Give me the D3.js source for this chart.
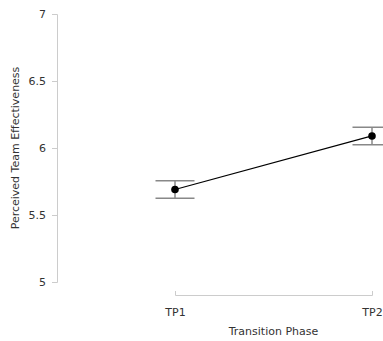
<!DOCTYPE html>
<html>
<head>
<meta charset="utf-8">
<script src="https://cdn.jsdelivr.net/npm/d3@7"></script>
<style>
  body { margin: 0; background: #fff; }
  text { font-family: "DejaVu Sans", sans-serif; fill: #333; }
</style>
</head>
<body>
<svg width="383" height="341"></svg>
<script>
var phases = ["TP1", "TP2"];
var means = [5.69, 6.09];
var lower = [5.625, 6.025];
var upper = [5.755, 6.155];
var yTicks = [5, 5.5, 6, 6.5, 7];

var svg = d3.select("svg");
var margin = { top: 14, right: 11, bottom: 59, left: 57 };
var width = +svg.attr("width") - margin.left - margin.right;
var height = +svg.attr("height") - margin.top - margin.bottom;

var data = phases.map(function(p, i) {
  return { phase: p, mean: means[i], lo: lower[i], hi: upper[i] };
});

var x = d3.scalePoint()
  .domain(phases)
  .range([118, width]);

var y = d3.scaleLinear()
  .domain([5, 7])
  .range([height, 0]);

var g = svg.append("g")
  .attr("transform", "translate(" + margin.left + "," + margin.top + ")");

// Y-axis
var yAxis = g.append("g")
  .call(d3.axisLeft(y).tickValues(yTicks).tickSize(5).tickPadding(6)
    .tickFormat(function(d) { return d3.format("")(d); }));
yAxis.selectAll("path, line").attr("stroke", "#ccc");
yAxis.selectAll("text").attr("font-size", 11).attr("fill", "#333");

// X-axis
var xAxis = g.append("g")
  .attr("transform", "translate(0," + (height + 13) + ")")
  .call(d3.axisBottom(x).tickSize(-4).tickSizeOuter(-4).tickPadding(13));
xAxis.selectAll("path, line").attr("stroke", "#ccc");
xAxis.selectAll("text").attr("font-size", 11).attr("fill", "#333");

// error bars
var capW = 19.5;
var eb = g.append("g").attr("class", "errorbars")
  .selectAll("g")
  .data(data)
  .enter().append("g")
    .attr("stroke", "#888")
    .attr("stroke-width", 1.5);

eb.append("line")
  .attr("x1", function(d) { return x(d.phase); })
  .attr("x2", function(d) { return x(d.phase); })
  .attr("y1", function(d) { return y(d.lo); })
  .attr("y2", function(d) { return y(d.hi); });
eb.append("line")
  .attr("x1", function(d) { return x(d.phase) - capW; })
  .attr("x2", function(d) { return x(d.phase) + capW; })
  .attr("y1", function(d) { return y(d.hi); })
  .attr("y2", function(d) { return y(d.hi); });
eb.append("line")
  .attr("x1", function(d) { return x(d.phase) - capW; })
  .attr("x2", function(d) { return x(d.phase) + capW; })
  .attr("y1", function(d) { return y(d.lo); })
  .attr("y2", function(d) { return y(d.lo); });

// line
g.append("path")
  .datum(data)
  .attr("fill", "none")
  .attr("stroke", "#000")
  .attr("stroke-width", 1.2)
  .attr("d", d3.line()
    .x(function(d) { return x(d.phase); })
    .y(function(d) { return y(d.mean); }));

g.append("g")
  .selectAll("circle")
  .data(data)
  .enter().append("circle")
    .attr("cx", function(d) { return x(d.phase); })
    .attr("cy", function(d) { return y(d.mean); })
    .attr("r", 3.8)
    .attr("fill", "#000");

// axis titles
svg.append("text")
  .attr("x", margin.left + (x.range()[0] + x.range()[1]) / 2)
  .attr("y", 335)
  .attr("text-anchor", "middle")
  .attr("font-size", 11)
  .text("Transition Phase");

svg.append("text")
  .attr("transform", "translate(19," + (margin.top + height / 2) + ") rotate(-90)")
  .attr("text-anchor", "middle")
  .attr("font-size", 11)
  .text("Perceived Team Effectiveness");
</script>
</body>
</html>
